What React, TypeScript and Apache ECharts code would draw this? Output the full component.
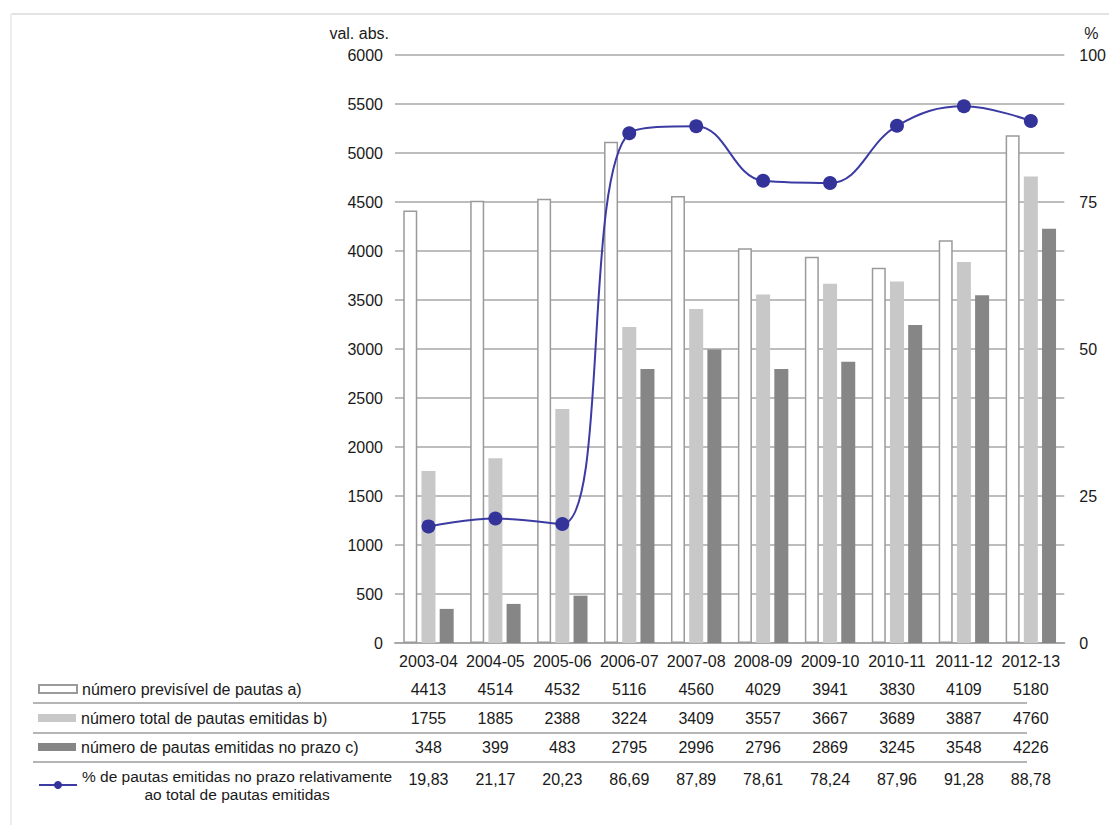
import React, { useEffect, useRef } from "react";
import * as echarts from "echarts";

const categories = ["2003-04", "2004-05", "2005-06", "2006-07", "2007-08", "2008-09", "2009-10", "2010-11", "2011-12", "2012-13"];
const previsivel = [4413, 4514, 4532, 5116, 4560, 4029, 3941, 3830, 4109, 5180];
const totalEmitidas = [1755, 1885, 2388, 3224, 3409, 3557, 3667, 3689, 3887, 4760];
const noPrazo = [348, 399, 483, 2795, 2996, 2796, 2869, 3245, 3548, 4226];
const percentagem = [19.83, 21.17, 20.23, 86.69, 87.89, 78.61, 78.24, 87.96, 91.28, 88.78];

const nameA = "número previsível de pautas a)";
const nameB = "número total de pautas emitidas b)";
const nameC = "número de pautas emitidas no prazo c)";
const nameD = "% de pautas emitidas no prazo relativamente ao total de pautas emitidas";

const FONT = "'Liberation Sans', Arial, sans-serif";
const TXT = "#1a1a1a";
const FS = 16;

export default function App() {
  const ref = useRef<HTMLDivElement>(null);
  useEffect(() => {
    document.body.style.margin = "0";
    const chart = echarts.init(ref.current!, null, { renderer: "svg" });
    const fmt = (v: number) => v.toFixed(2).replace(".", ",");
    const rowAxis = (offset: number, vals: (string | number)[]) => ({
      type: "category",
      gridIndex: 0,
      position: "bottom",
      offset,
      data: categories,
      axisLine: { show: false },
      axisTick: { show: false },
      splitLine: { show: false },
      axisLabel: {
        margin: 0,
        color: TXT,
        fontFamily: FONT,
        fontSize: FS,
        interval: 0,
        verticalAlign: "top",
        formatter: (_: string, i: number) => String(vals[i]),
      },
    });
    const legendBase = {
      orient: "vertical",
      padding: 0,
      itemWidth: 38,
      itemHeight: 8,
      textStyle: { color: TXT, fontFamily: FONT, fontSize: FS },
      selectedMode: false,
      icon: "rect",
    };
    chart.setOption({
      animation: false,
      backgroundColor: "#ffffff",
      textStyle: { fontFamily: FONT },
      grid: { left: 395, right: 39, top: 55, bottom: 182, containLabel: false },
      legend: [
        { ...legendBase, data: [nameA], left: 38, top: 681 },
        { ...legendBase, data: [nameB], left: 38, top: 710 },
        { ...legendBase, data: [nameC], left: 38, top: 739 },
        {
          ...legendBase,
          icon: undefined,
          itemHeight: 10,
          data: [nameD],
          left: 38,
          top: 768,
          formatter: () => "{a|% de pautas emitidas no prazo relativamente}\n{a|ao total de pautas emitidas}",
          textStyle: {
            color: TXT,
            fontFamily: FONT,
            fontSize: 15.5,
            rich: { a: { align: "center", fontFamily: FONT, fontSize: 15.5, color: TXT, lineHeight: 18 } },
          },
        },
      ],
      xAxis: [
        {
          type: "category",
          data: categories,
          axisLine: { lineStyle: { color: "#a8a8a8", width: 2 } },
          axisTick: { show: false },
          axisLabel: { margin: 10, color: TXT, fontFamily: FONT, fontSize: FS, interval: 0, verticalAlign: "top" },
        },
        rowAxis(38, previsivel),
        rowAxis(67, totalEmitidas),
        rowAxis(96, noPrazo),
        rowAxis(128, percentagem.map(fmt)),
      ],
      yAxis: [
        {
          type: "value",
          min: 0,
          max: 6000,
          interval: 500,
          name: "val. abs.",
          nameLocation: "end",
          nameGap: 14,
          nameTextStyle: { color: TXT, fontFamily: FONT, fontSize: FS, align: "right", padding: [0, 6, 0, 0] },
          axisLine: { show: false },
          axisTick: { show: false },
          axisLabel: { margin: 12, color: TXT, fontFamily: FONT, fontSize: FS, formatter: (v: number) => String(v) },
          splitLine: { lineStyle: { color: "#bdbdbd", width: 2 } },
        },
        {
          type: "value",
          min: 0,
          max: 100,
          interval: 25,
          position: "right",
          name: "%",
          nameLocation: "end",
          nameGap: 14,
          nameTextStyle: { color: TXT, fontFamily: FONT, fontSize: FS, align: "left", padding: [0, 0, 0, 20] },
          axisLine: { show: false },
          axisTick: { show: false },
          axisLabel: { margin: 15, color: TXT, fontFamily: FONT, fontSize: FS },
          splitLine: { show: false },
        },
      ],
      series: [
        {
          name: nameA,
          type: "bar",
          data: previsivel,
          barWidth: 14,
          barGap: "30%",
          itemStyle: { color: "#ffffff", borderColor: "#9a9a9a", borderWidth: 1.5 },
        },
        {
          name: nameB,
          type: "bar",
          data: totalEmitidas,
          barWidth: 14,
          barGap: "30%",
          itemStyle: { color: "#c8c8c8" },
        },
        {
          name: nameC,
          type: "bar",
          data: noPrazo,
          barWidth: 14,
          barGap: "30%",
          itemStyle: { color: "#868686" },
        },
        {
          name: nameD,
          type: "line",
          yAxisIndex: 1,
          data: percentagem,
          smooth: 0.4,
          symbol: "circle",
          symbolSize: 14,
          lineStyle: { color: "#3b3ba3", width: 2 },
          itemStyle: { color: "#33339a" },
          z: 5,
        },
      ],
      graphic: [
        { type: "line", shape: { x1: 11, y1: 14, x2: 1109, y2: 14 }, style: { stroke: "#e3e3e3", lineWidth: 2 } },
        { type: "line", shape: { x1: 11, y1: 14, x2: 11, y2: 825 }, style: { stroke: "#e8e8e8", lineWidth: 1.5 } },
        { type: "line", shape: { x1: 33, y1: 703, x2: 1027, y2: 703 }, style: { stroke: "#b5b5b5", lineWidth: 2 } },
        { type: "line", shape: { x1: 33, y1: 733, x2: 1027, y2: 733 }, style: { stroke: "#b5b5b5", lineWidth: 2 } },
        { type: "line", shape: { x1: 33, y1: 762, x2: 1027, y2: 762 }, style: { stroke: "#b5b5b5", lineWidth: 2 } },
      ],
    });
    return () => chart.dispose();
  }, []);
  return <div ref={ref} style={{ width: 1109, height: 825 }} />;
}
